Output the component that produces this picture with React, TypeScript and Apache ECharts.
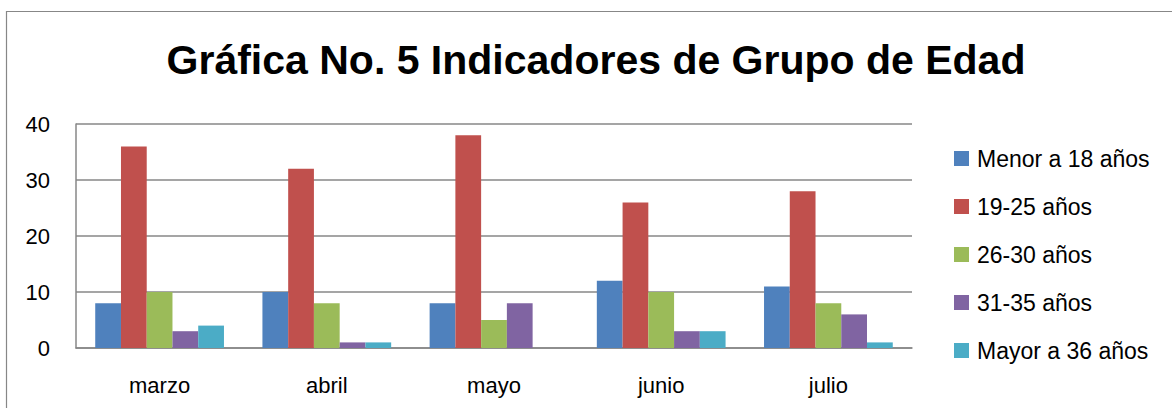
import React, { useEffect, useRef } from "react";
import * as echarts from "echarts";

const titleText = "Gráfica No. 5 Indicadores de Grupo de Edad";
const months = ["marzo", "abril", "mayo", "junio", "julio"];
const seriesNames = ["Menor a 18 años", "19-25 años", "26-30 años", "31-35 años", "Mayor a 36 años"];
const menor18 = [8, 10, 8, 12, 11];
const de19a25 = [36, 32, 38, 26, 28];
const de26a30 = [10, 8, 5, 10, 8];
const de31a35 = [3, 1, 8, 3, 6];
const mayor36 = [4, 1, 0, 3, 1];
const colors = ["#4F81BD", "#C0504D", "#9BBB59", "#8064A2", "#4BACC6"];
const yTicks = { min: 0, max: 40, interval: 10 };

export default function App() {
  const ref = useRef<HTMLDivElement>(null);
  useEffect(() => {
    if (!ref.current) return;
    const chart = echarts.init(ref.current, undefined, { renderer: "svg" });
    const allData = [menor18, de19a25, de26a30, de31a35, mayor36];
    const font = "'Liberation Sans', Arial, sans-serif";
    chart.setOption({
      animation: false,
      textStyle: { fontFamily: font },
      graphic: [
        {
          type: "rect",
          shape: { x: 6.5, y: 11.5, width: 1200, height: 500 },
          style: { fill: "none", stroke: "#878787", lineWidth: 1.2 },
          silent: true,
        },
        {
          type: "text",
          x: 596,
          y: 60,
          style: {
            text: titleText,
            fontFamily: font,
            fontWeight: "bold",
            fontSize: 41,
            fill: "#000",
            align: "center",
            verticalAlign: "middle",
          },
        },
      ],
      grid: { left: 76, top: 124, width: 836, height: 224, containLabel: false },
      legend: {
        orient: "vertical",
        left: 949,
        top: 142,
        padding: 5,
        itemWidth: 15,
        itemHeight: 15,
        itemGap: 25,
        icon: "rect",
        data: seriesNames,
        textStyle: { fontSize: 23, lineHeight: 23, color: "#000", fontFamily: font, padding: [0, 0, 0, 3] },
      },
      xAxis: {
        type: "category",
        data: months,
        axisLine: { lineStyle: { color: "#878787", width: 1.5 } },
        axisTick: { show: false },
        axisLabel: { fontSize: 22, color: "#000", margin: 26, fontFamily: font },
      },
      yAxis: {
        type: "value",
        min: yTicks.min,
        max: yTicks.max,
        interval: yTicks.interval,
        axisLine: { show: true, lineStyle: { color: "#878787", width: 1.5 } },
        axisTick: { show: false },
        splitLine: { lineStyle: { color: "#878787", width: 1.5 } },
        axisLabel: { fontSize: 22, color: "#000", margin: 26, fontFamily: font },
      },
      series: seriesNames.map((name, i) => ({
        name,
        type: "bar",
        data: allData[i],
        barGap: "0%",
        barCategoryGap: "23%",
        itemStyle: { color: colors[i] },
      })),
    });
    return () => chart.dispose();
  }, []);
  return <div ref={ref} style={{ position: "absolute", left: 0, top: 0, width: 1172, height: 408, background: "#fff" }} />;
}
